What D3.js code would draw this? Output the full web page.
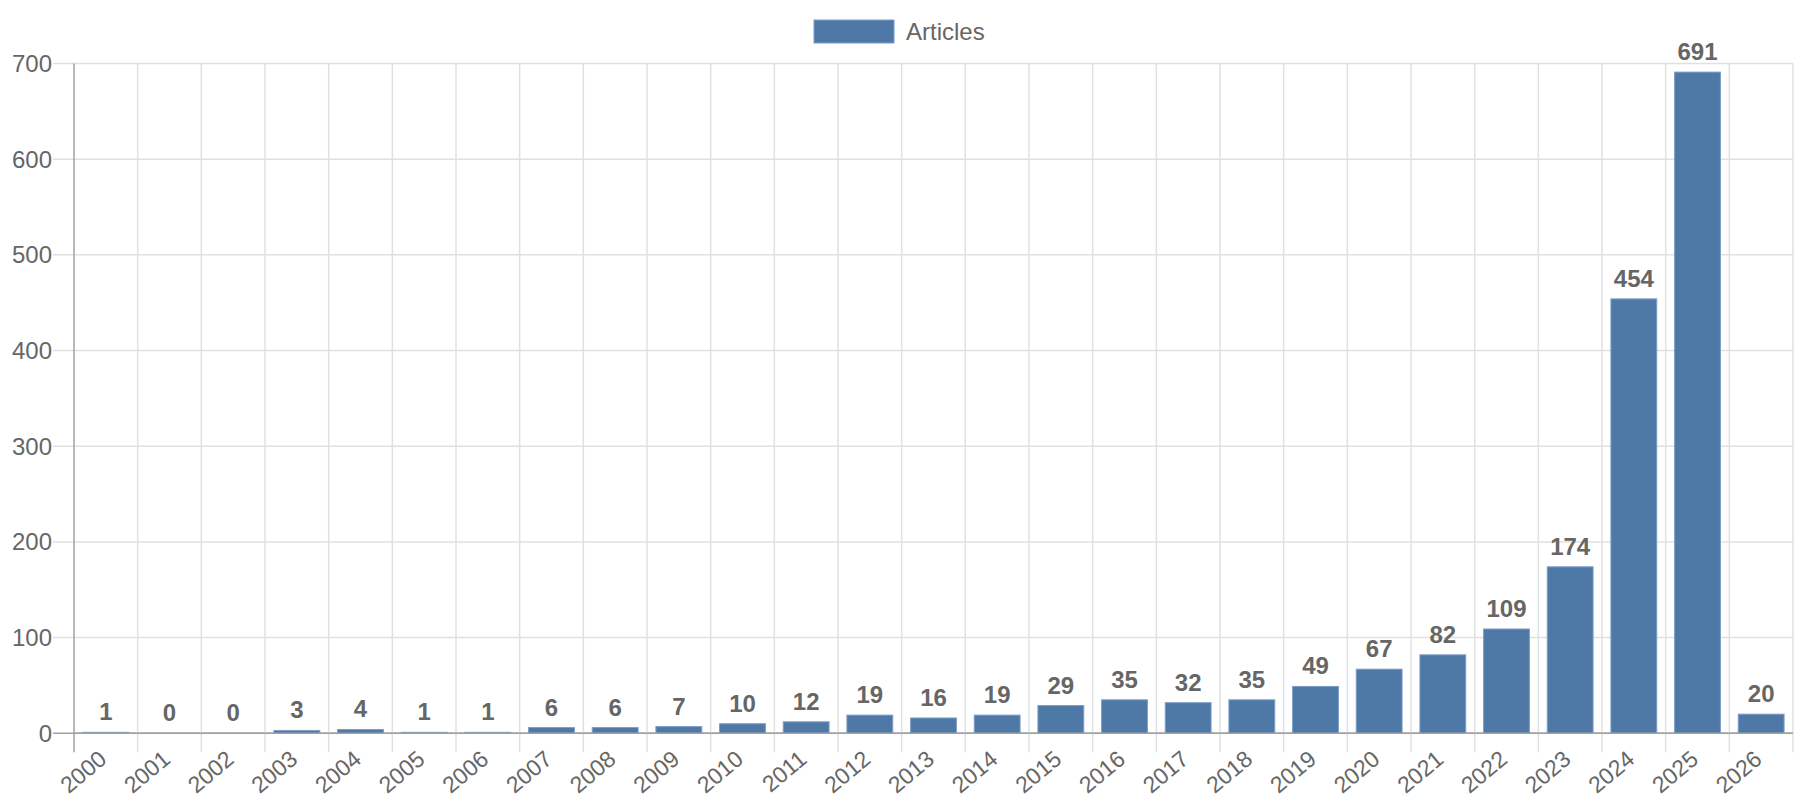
<!DOCTYPE html>
<html>
<head>
<meta charset="utf-8">
<script src="https://cdn.jsdelivr.net/npm/d3@7"></script>
<style>
html,body{margin:0;padding:0;background:#fff;}
svg{display:block;font-family:"Liberation Sans",Arial,sans-serif;}
</style>
</head>
<body>
<svg id="chart" width="1800" height="800"></svg>
<script>
const years = ["2000","2001","2002","2003","2004","2005","2006","2007","2008","2009","2010","2011","2012","2013","2014","2015","2016","2017","2018","2019","2020","2021","2022","2023","2024","2025","2026"];
const articles = [1,0,0,3,4,1,1,6,6,7,10,12,19,16,19,29,35,32,35,49,67,82,109,174,454,691,20];
const yTicks = [0,100,200,300,400,500,600,700];
const seriesName = "Articles";

const svg = d3.select("#chart");
const mLeft = 74, mRight = 1793, mTop = 63.5, mBottom = 733.3;
const textColor = "#666";
const gridColor = "#e0e0e0";
const axisColor = "#a0a0a0";
const barFill = "#4e79a7";
const barStroke = "#7c9ec6";

const x = d3.scaleBand().domain(years).range([mLeft, mRight]).paddingInner(0).paddingOuter(0);
const y = d3.scaleLinear().domain([0, 700]).range([mBottom, mTop]);

// horizontal grid lines + y ticks
const yg = svg.append("g");
yg.selectAll("line").data(yTicks).join("line")
  .attr("x1", mLeft - 21).attr("x2", mRight)
  .attr("y1", d => y(d)).attr("y2", d => y(d))
  .attr("stroke", d => d === 0 ? axisColor : gridColor).attr("stroke-width", 1.5);
yg.selectAll("text").data(yTicks).join("text")
  .attr("x", mLeft - 22).attr("y", d => y(d)).attr("dy", "0.35em")
  .attr("text-anchor", "end").attr("fill", textColor)
  .attr("font-size", 24).text(d => d);

// vertical grid lines at category boundaries
const bounds = years.map(d => x(d)).concat([mRight]);
const xg = svg.append("g");
xg.selectAll("line").data(bounds).join("line")
  .attr("x1", d => d).attr("x2", d => d)
  .attr("y1", mTop).attr("y2", mBottom + 19)
  .attr("stroke", (d, i) => i === 0 ? axisColor : gridColor).attr("stroke-width", 1.5);

// bars
const bw = x.bandwidth() * 0.72;
svg.append("g").selectAll("rect").data(articles).join("rect")
  .attr("x", (d, i) => x(years[i]) + (x.bandwidth() - bw) / 2)
  .attr("width", bw)
  .attr("y", d => y(d))
  .attr("height", d => Math.max(0, y(0) - y(d)))
  .attr("fill", barFill)
  .attr("stroke", barStroke).attr("stroke-width", d => d > 0 ? 1 : 0);

// redraw zero axis over bars
svg.append("line").attr("x1", mLeft).attr("x2", mRight).attr("y1", y(0)).attr("y2", y(0))
  .attr("stroke", axisColor).attr("stroke-width", 1.5);

// value labels
svg.append("g").selectAll("text").data(articles).join("text")
  .attr("x", (d, i) => x(years[i]) + x.bandwidth() / 2)
  .attr("y", d => y(d) - 12)
  .attr("text-anchor", "middle").attr("fill", textColor)
  .attr("font-size", 24).attr("font-weight", "bold")
  .text(d => d);

// x labels rotated
svg.append("g").selectAll("text").data(years).join("text")
  .attr("transform", d => `translate(${x(d) + x.bandwidth() / 2 - 3},${mBottom + 22}) rotate(-40)`)
  .attr("text-anchor", "end").attr("dy", "0.35em")
  .attr("fill", textColor).attr("font-size", 23)
  .text(d => d);

// legend
const lg = svg.append("g");
lg.append("rect").attr("x", 814).attr("y", 20).attr("width", 80).attr("height", 23)
  .attr("fill", barFill).attr("stroke", barStroke).attr("stroke-width", 1);
lg.append("text").attr("x", 906).attr("y", 31.5).attr("dy", "0.35em")
  .attr("fill", textColor).attr("font-size", 24).text(seriesName);
</script>
</body>
</html>
